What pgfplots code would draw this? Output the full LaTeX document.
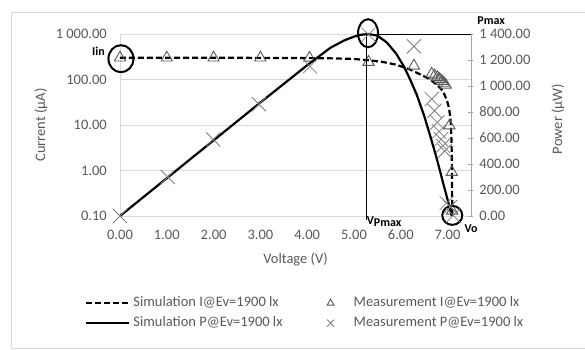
\documentclass[border=0pt]{standalone}
\usepackage{fontspec}
\setmainfont{Carlito}
\usepackage{pgfplots}
\usepackage{pgfplotstable}
\pgfplotsset{compat=1.18}
\definecolor{txtgray}{HTML}{595959}
\definecolor{gridgray}{HTML}{D9D9D9}
\definecolor{axgray}{HTML}{A6A6A6}
\definecolor{trigray}{HTML}{595959}
\definecolor{crossgray}{HTML}{7F7F7F}
\newcommand\cf{\fontsize{14.5}{17}\selectfont}
\newcommand\af{\fontsize{12}{14}\selectfont\bfseries}

\pgfplotstableread{
V I
0 300
1 300
2 300
3 299
4 296
4.5 292
5.0 283
5.3 265
5.6 245
5.9 212
6.2 165
6.4 132
6.63 100
6.8 72
6.9 56
6.98 36
7.03 24
7.06 14
7.08 6
7.09 2
7.095 0.6
7.1 0.1
}\simI

\pgfplotstableread{
V I
0 300
1 300
2 300
3 300
4.05 298
5.31 241
6.28 200
6.66 133
6.72 122
6.78 112
6.83 102
6.88 92
6.92 84
6.96 76
7.04 9.7
7.09 0.92
7.1 0.13
}\measI

\pgfplotstableread{
V P
0 0
1 291
2 582
3 873
4 1160
4.5 1295
4.8 1352
5.0 1380
5.15 1394
5.3 1400
5.5 1388
5.7 1335
5.9 1250
6.07 1148
6.2 1050
6.34 934
6.5 770
6.65 590
6.77 440
6.9 260
7.0 125
7.06 45
7.09 0
}\simP

\pgfplotstableread{
V P
0 0
1.02 300
1.99 589
2.97 860
4.06 1151
5.31 1395
6.28 1305
6.66 900
6.72 810
6.78 720
6.82 650
6.86 590
6.9 540
6.94 500
6.98 100
7.06 70
7.12 5
}\measP

\pgfplotsset{
  simIstyle/.style={black, line width=2.2pt, dash pattern=on 6pt off 3pt},
  simPstyle/.style={black, line width=2.2pt},
  measIstyle/.style={only marks, mark=triangle, mark size=6.5pt, mark options={draw=trigray, line width=0.9pt, fill=none, solid}},
  measPstyle/.style={only marks, mark=x, mark size=10pt, mark options={draw=crossgray, line width=0.8pt, solid}},
  lineimg/.style={legend image code/.code={\draw[##1] (0pt,0pt) -- (43pt,0pt);}},
  markimg/.style={legend image code/.code={\path[draw=none] (0pt,0pt) -- (65pt,0pt); \draw[##1] plot coordinates {(45pt,0pt)};}},
}

\begin{document}
\begin{tikzpicture}
\useasboundingbox (-120pt,-133pt) rectangle (465pt,216pt);
\draw[gridgray, line width=1pt] (470pt,204pt) -- (-108pt,204pt) -- (-108pt,-132pt) -- (470pt,-132pt);

\begin{axis}[
  at={(0pt,0pt)}, anchor=south west, scale only axis, width=351pt, height=182pt,
  xmin=0, xmax=7.5, ymode=log, ymin=0.1, ymax=1000,
  axis x line*=bottom, axis y line*=left,
  axis line style={gridgray, line width=0.8pt, -},
  xtick={0,1,2,3,4,5,6,7}, xticklabels={0.00,1.00,2.00,3.00,4.00,5.00,6.00,7.00},
  ytick={0.1,1,10,100,1000}, yticklabels={0.10,1.00,10.00,100.00,1 000.00},
  major tick length=0pt, minor tick length=0pt,
  ymajorgrids, major grid style={gridgray, line width=0.8pt},
  tick label style={font=\cf, text=txtgray, inner sep=0pt},
  xticklabel style={anchor=center, yshift=-18.5pt},
  yticklabel style={anchor=east, xshift=-13pt},
  xlabel={Voltage (V)}, ylabel={Current (µA)},
  every axis x label/.style={at={(axis description cs:0.5,-0.24)}, anchor=center},
  every axis y label/.style={at={(axis description cs:-0.225,0.5)}, rotate=90, anchor=center},
  label style={font=\cf, text=txtgray},
  clip=false,
]
\addplot[simIstyle] table[x=V,y=I] {\simI};
\addplot[measIstyle] table[x=V,y=I] {\measI};
\end{axis}

\begin{axis}[
  at={(0pt,0pt)}, anchor=south west, scale only axis, width=351pt, height=182pt,
  xmin=0, xmax=7.5, ymin=0, ymax=1400,
  axis x line=none, axis y line*=right,
  axis line style={axgray, line width=0.8pt, -},
  ytick={0,200,400,600,800,1000,1200,1400},
  yticklabels={0.00,200.00,400.00,600.00,800.00,1 000.00,1 200.00,1 400.00},
  major tick length=5pt, tick align=center, tick style={axgray, line width=0.8pt},
  tick label style={font=\cf, text=txtgray, inner sep=0pt},
  yticklabel style={anchor=west, xshift=5.7pt},
  ylabel={Power (µW)},
  every axis y label/.style={at={(axis description cs:1.248,0.533)}, rotate=90, anchor=center},
  label style={font=\cf, text=txtgray},
  clip=false,
  legend columns=2,
  legend cell align=left,
  legend style={draw=none, fill=none, inner sep=0pt, at={(axis description cs:-0.0997,-0.442)}, anchor=north west,
    font=\cf, text=txtgray, column sep=3pt, row sep=7pt,
    nodes={inner sep=0pt, text height=10pt, text depth=3pt}},
]
\addlegendimage{simIstyle, lineimg}
\addlegendentry{Simulation I@Ev=1900 lx}
\addlegendimage{measIstyle, mark size=4pt, markimg}
\addlegendentry{Measurement I@Ev=1900 lx}
\addlegendimage{simPstyle, lineimg}
\addlegendentry{Simulation P@Ev=1900 lx}
\addlegendimage{measPstyle, mark size=5pt, markimg}
\addlegendentry{Measurement P@Ev=1900 lx}

\addplot[simPstyle, forget plot] table[x=V,y=P] {\simP};
\addplot[measPstyle, forget plot] table[x=V,y=P] {\measP};

\draw[black, line width=0.8pt] (axis cs:5.3,1400) -- (axis cs:7.5,1400);
\draw[black, line width=0.8pt] (axis cs:5.27,1400) -- ([yshift=-4pt]axis cs:5.27,0);
\draw[black, line width=2pt] (axis cs:0.02,1210) ellipse [x radius=12.5pt, y radius=13.5pt];
\draw[black, line width=2pt] (axis cs:5.3,1406) ellipse [x radius=10pt, y radius=14pt];
\draw[black, line width=2pt] (axis cs:7.1,5) ellipse [x radius=10pt, y radius=9.5pt];
\node[font=\af, inner sep=0pt] at (axis cs:-0.46,1268) {Iin};
\node[font=\af, inner sep=0pt] at (axis cs:7.93,1505) {Pmax};
\node[font=\af, inner sep=0pt, anchor=north west] at ([yshift=-0.5pt]axis cs:5.27,0) {V\raisebox{-2.5pt}{Pmax}};
\node[font=\af, inner sep=0pt] at (axis cs:7.5,-96) {Vo};
\end{axis}
\end{tikzpicture}
\end{document}
